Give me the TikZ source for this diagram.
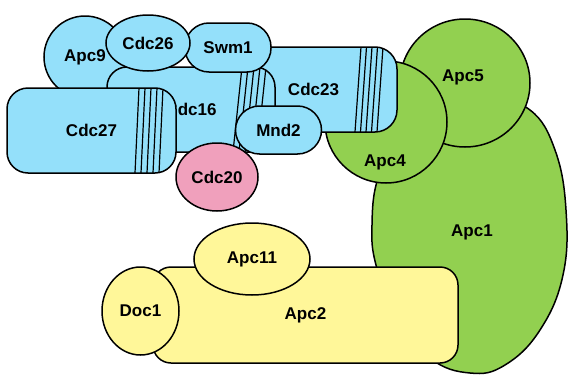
\documentclass[tikz,border=0pt]{standalone}
\usepackage{fontspec}
\setmainfont{Liberation Sans}
\usetikzlibrary{shapes.geometric}
\definecolor{blu}{HTML}{94E0FA}
\definecolor{grn}{HTML}{92D050}
\definecolor{ylw}{HTML}{FFF799}
\definecolor{pnk}{HTML}{F0A0BC}
\begin{document}
\begin{tikzpicture}[x=1pt,y=-1pt,
  every node/.style={font=\fontsize{17}{19}\selectfont\bfseries, inner sep=0pt, outer sep=0pt},
  mol/.style={draw=black, line width=1.5pt},
  rbox/.style={mol, rectangle, rounded corners=#1},
  oval/.style={mol, ellipse},
  hl/.style={line width=1.2pt}
]
\useasboundingbox (0,0) rectangle (568,375);
% Apc1
\draw[mol, fill=grn] plot[smooth cycle, tension=0.7] coordinates {(372,225) (378,178) (400,135) (440,108) (490,100) (530,110) (555,150) (566,210) (563,275) (540,330) (505,365) (470,373) (430,358) (395,315) (376,265)};
\node (Apc1) at (472,232) {Apc1};
% Apc5
\node[oval, fill=grn, minimum width=130pt, minimum height=128pt] (Apc5) at (465,83) {};
\node (Apc5l) at (463,77) {Apc5};
% Apc4
\node[oval, fill=grn, minimum width=122pt, minimum height=122pt] (Apc4) at (386,122) {};
\node (Apc4l) at (385,162) {Apc4};
% Cdc23
\node[rbox=22pt, fill=blu, minimum width=167pt, minimum height=85pt,
  path picture={\foreach \a/\b in {-36/-42,-30.5/-36.5,-25/-31,-19.5/-25.5,-14/-20}
    \draw[hl] ([xshift=\a pt]path picture bounding box.north east) -- ([xshift=\b pt]path picture bounding box.south east);}
  ] (Cdc23) at (313.5,89.5) {Cdc23};
% Apc9
\node[oval, fill=blu, minimum width=82pt, minimum height=82pt] (Apc9) at (85,57) {Apc9};
% Cdc16
\node[rbox=20pt, fill=blu, minimum width=168pt, minimum height=85pt,
  path picture={\foreach \a/\b in {-33/-42,-27/-36,-21/-30,-15/-24,-9/-18}
    \draw[hl] ([xshift=\a pt]path picture bounding box.north east) -- ([xshift=\b pt]path picture bounding box.south east);}
  ] (Cdc16) at (191,109.5) {Cdc16};
% Swm1
\node[rbox=24pt, fill=blu, minimum width=86pt, minimum height=49pt] (Swm1) at (228,47.5) {Swm1};
% Cdc26
\node[oval, fill=blu, minimum width=84pt, minimum height=56pt] (Cdc26) at (148,43) {Cdc26};
% Cdc27
\node[rbox=21pt, fill=blu, minimum width=169pt, minimum height=85pt,
  path picture={\foreach \a/\b in {-37/-41,-31/-35,-25/-29,-19/-23,-13/-17}
    \draw[hl] ([xshift=\a pt]path picture bounding box.north east) -- ([xshift=\b pt]path picture bounding box.south east);}
  ] (Cdc27) at (91.5,130.5) {Cdc27};
% Cdc20
\node[oval, fill=pnk, minimum width=82pt, minimum height=68pt] (Cdc20) at (217,177) {Cdc20};
% Mnd2
\node[rbox=24pt, fill=blu, minimum width=86pt, minimum height=48pt] (Mnd2) at (278.5,130) {Mnd2};
% Apc2
\node[rbox=18pt, fill=ylw, minimum width=305pt, minimum height=96pt] (Apc2) at (305.5,315) {Apc2};
% Apc11
\node[oval, fill=ylw, minimum width=116pt, minimum height=72pt] (Apc11) at (252,259) {Apc11};
% Doc1
\node[oval, fill=ylw, minimum width=77pt, minimum height=88pt] (Doc1) at (140.5,311) {Doc1};
\end{tikzpicture}
\end{document}
